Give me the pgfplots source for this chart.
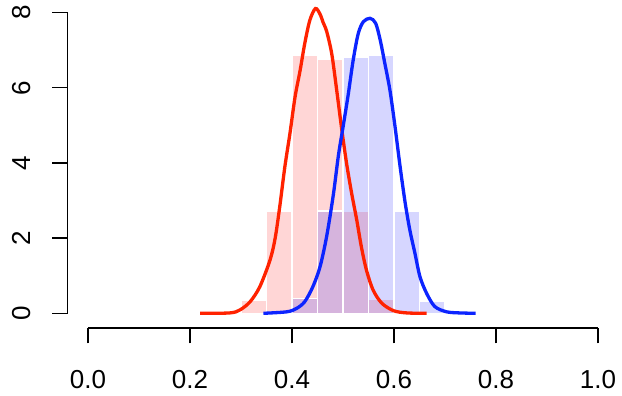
\documentclass[border=0pt]{standalone}
\usepackage{pgfplots}
\pgfplotsset{compat=1.18}
\usepackage{fontspec}
\setmainfont{Liberation Sans}
\definecolor{rline}{RGB}{255,34,0}
\definecolor{bline}{RGB}{12,36,255}
\definecolor{rfill}{RGB}{255,0,0}
\definecolor{bfill}{RGB}{0,0,255}
\begin{document}
\begin{tikzpicture}
\begin{axis}[
  scale only axis,
  width=550.8pt, height=328pt,
  xmin=-0.04, xmax=1.04, ymin=-0.391, ymax=8.337,
  clip=false,
  axis x line*=bottom, axis y line*=left,
  axis line style={draw=none},
  tick align=outside,
  major tick length=15.5pt,
  tick style={line width=1.3pt, black},
  xtick={0,0.2,0.4,0.6,0.8,1.0},
  xticklabels={0.0,0.2,0.4,0.6,0.8,1.0},
  ytick={0,2,4,6,8},
  yticklabels={0,2,4,6,8},
  /pgf/number format/assume math mode=true,
  tick label style={font=\fontsize{26}{30}\selectfont},
  xticklabel style={anchor=base, yshift=-45pt},
  yticklabel style={xshift=-22pt, rotate=90, anchor=base},
]
\addplot[ybar interval, fill=rfill, fill opacity=0.16, draw=white, line width=1.4pt]
  coordinates {(0.30,0.35) (0.35,2.72) (0.40,6.87) (0.45,6.77) (0.50,2.72) (0.55,0.38) (0.60,0)};
\addplot[ybar interval, fill=bfill, fill opacity=0.16, draw=white, line width=1.4pt]
  coordinates {(0.40,0.40) (0.45,2.72) (0.50,6.80) (0.55,6.87) (0.60,2.72) (0.65,0.33) (0.70,0)};
\addplot[rline, line width=3.3pt, smooth, tension=0.5] coordinates {
(0.220,0)(0.278,0.01)(0.298,0.09)(0.318,0.31)(0.337,0.71)(0.357,1.42)(0.367,2.0)(0.376,2.84)(0.386,3.90)(0.396,4.79)(0.406,5.76)(0.416,6.47)(0.425,7.18)(0.435,7.80)(0.446,8.11)(0.455,7.96)(0.461,7.74)(0.468,7.50)(0.478,6.90)(0.488,5.90)(0.497,4.95)(0.507,3.99)(0.517,3.19)(0.527,2.48)(0.536,1.77)(0.546,1.15)(0.559,0.62)(0.576,0.27)(0.599,0.07)(0.625,0.01)(0.664,0)};
\addplot[bline, line width=3.3pt, smooth, tension=0.5] coordinates {
(0.344,0)(0.390,0.04)(0.409,0.13)(0.425,0.31)(0.441,0.71)(0.455,1.24)(0.468,2.05)(0.481,3.15)(0.491,4.2)(0.500,4.95)(0.510,5.80)(0.520,6.74)(0.530,7.45)(0.540,7.76)(0.553,7.85)(0.564,7.72)(0.573,7.27)(0.582,6.65)(0.592,5.94)(0.602,4.97)(0.612,3.90)(0.622,2.93)(0.631,2.22)(0.641,1.60)(0.651,0.97)(0.664,0.53)(0.680,0.18)(0.703,0.04)(0.729,0.01)(0.760,0)};
\draw[line width=1.3pt] (axis cs:0,-0.391) -- (axis cs:1,-0.391);
\draw[line width=1.3pt] (axis cs:-0.04,0) -- (axis cs:-0.04,8);
\end{axis}
\pgfresetboundingbox
\path[use as bounding box] (-67.6pt,-68pt) rectangle (554.4pt,328pt);
\end{tikzpicture}
\end{document}
